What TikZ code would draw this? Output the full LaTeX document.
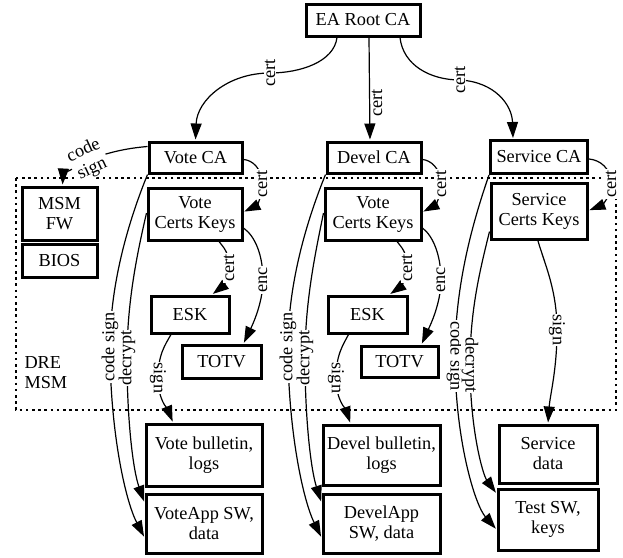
\documentclass[tikz,border=0pt]{standalone}
\usepackage{fontspec}
\setmainfont{Liberation Serif}
\usetikzlibrary{arrows.meta, calc, positioning}
\pgfdeclarelayer{bg}
\pgfsetlayers{bg,main}

\tikzset{
  box/.style={draw, line width=3pt, fill=white, align=center, inner sep=0pt},
  lbl/.style={fill=white, inner sep=1pt, rotate=90},
  lbldown/.style={fill=white, inner sep=1pt, rotate=-90},
  edge/.style={-{Triangle[length=16pt,width=11pt]}, line width=1.2pt, shorten >=1pt},
  dotbox/.style={line width=2.6pt, dash pattern=on 2.6pt off 3.6pt},
}

\begin{document}
\begin{tikzpicture}[x=1pt, y=-1pt, font=\fontsize{18.3}{20}\selectfont]
    \useasboundingbox (0,0) rectangle (623,557);

    % CAs
    \node[box, minimum width=114, minimum height=32] (root) at (363,20) {EA Root CA};
    \node[box, minimum width=93, minimum height=31] (vca) at (195.5,157.5) {Vote CA};
    \node[box, minimum width=94, minimum height=31] (dca) at (374,157.5) {Devel CA};
    \node[box, minimum width=97, minimum height=33] (sca) at (539,157) {Service CA};

    % MSM side
    \node[box, minimum width=75, minimum height=53] (msm) at (59.5,213.5) {MSM\\FW};
    \node[box, minimum width=75, minimum height=33] (bios) at (59.5,260.5) {BIOS};
    \node[anchor=west, align=left] (dre) at (21,373) {DRE\\MSM};

    % keys
    \node[box, minimum width=94, minimum height=52] (vck) at (195,214) {Vote\\Certs Keys};
    \node[box, minimum width=96, minimum height=52] (dck) at (373,214) {Vote\\Certs Keys};
    \node[box, minimum width=96, minimum height=56] (sck) at (539,211.5) {Service\\Certs Keys};
    \node[box, minimum width=78, minimum height=37] (esk1) at (190,314.5) {ESK};
    \node[box, minimum width=79, minimum height=33] (totv1) at (221.5,361.5) {TOTV};
    \node[box, minimum width=79, minimum height=37] (esk2) at (367.5,314.5) {ESK};
    \node[box, minimum width=77, minimum height=31] (totv2) at (399.5,361.5) {TOTV};

    % outputs
    \node[box, minimum width=116, minimum height=62] (vbl) at (204,455) {Vote bulletin,\\logs};
    \node[box, minimum width=116, minimum height=59] (vapp) at (204,523.5) {VoteApp SW,\\data};
    \node[box, minimum width=117, minimum height=60] (dbl) at (381.5,455) {Devel bulletin,\\logs};
    \node[box, minimum width=117, minimum height=59] (dapp) at (381.5,523.5) {DevelApp\\SW, data};
    \node[box, minimum width=98, minimum height=58] (sdata) at (548,454) {Service\\data};
    \node[box, minimum width=100, minimum height=61] (test) at (548,519.5) {Test SW,\\keys};

    % edge labels
    \node[lbl] (c1) at (270,73) {cert};
    \node[lbl, fill=none] (c2) at (377,103) {cert};
    \node[lbl] (c3) at (460,80) {cert};
    \node[fill=white, inner sep=1pt, align=center, rotate=25] (cs1) at (88,160) {code\\sign};
    \node[lbl] (c4) at (262,184) {cert};
    \node[lbl] (c5) at (229,268) {cert};
    \node[lbl] (e1) at (263,280) {enc};
    \node[lbldown] (s1) at (158,378) {sign};
    \node[lbl] (cs2) at (110,347) {code sign};
    \node[lbl] (d1) at (127,358) {decrypt};
    \node[lbl] (c6) at (441,184) {cert};
    \node[lbl] (c7) at (407,268) {cert};
    \node[lbl] (e2) at (441,280) {enc};
    \node[lbldown] (s2) at (336,378) {sign};
    \node[lbl] (cs3) at (288,347) {code sign};
    \node[lbl] (d2) at (305,358) {decrypt};
    \node[lbl] (c8) at (611,184) {cert};
    \node[lbldown] (cs4) at (455,356) {code sign};
    \node[lbldown] (d3) at (470,365) {decrypt};
    \node[lbldown] (s3) at (557,330) {sign};

    \begin{pgfonlayer}{bg}
    % DRE MSM boundary
    \draw[dotbox] (16,178) rectangle (616,410);

    % root certs
    \draw[edge] ($(root.south)+(-26,0)$) .. controls (334,62) and (300,73) .. (c1.center)
      .. controls (228,73) and (197,100) .. (vca.north);
    \draw[edge] ($(root.south)+(6,0)$) -- ($(dca.north)+(-4,0)$);
    \draw[edge] ($(root.south)+(37,0)$) .. controls (403,65) and (430,80) .. (c3.center)
      .. controls (495,82) and (512,105) .. ($(sca.north)+(-26,0)$);

    % Vote
    \draw[edge] ($(vca.north west)+(0,6)$) .. controls (130,148) and (112,151) .. (cs1.center)
      .. controls (70,170) and (63,176) .. ($(msm.north)+(3,0)$);
    \draw[edge] ($(vca.east)+(0,2)$) .. controls (252,160) and (262,168) .. (c4.center)
      .. controls (262,198) and (256,206) .. ($(vck.east)+(0,-2)$);
    \draw[edge] ($(vck.south)+(24,0)$) .. controls (224,248) and (229,252) .. (c5.center)
      .. controls (229,284) and (218,290) .. ($(esk1.north)+(22,0)$);
    \draw[edge] ($(vck.east)+(0,14)$) .. controls (255,236) and (263,255) .. (e1.center)
      .. controls (263,305) and (250,330) .. ($(totv1.north)+(22,0)$);
    \draw[edge] ($(esk1.south)+(-19,0)$) .. controls (165,345) and (158,355) .. (s1.center)
      .. controls (158,400) and (168,410) .. ($(vbl.north)+(-31,0)$);
    \draw[edge] (vca.south west) .. controls (125,230) and (110,290) .. (cs2.center)
      .. controls (110,430) and (125,500) .. ($(vapp.west)+(0,14)$);
    \draw[edge] ($(vck.west)+(0,-1)$) .. controls (138,250) and (127,300) .. (d1.center)
      .. controls (127,420) and (133,470) .. ($(vapp.west)+(0,-21)$);

    % Devel
    \draw[edge] ($(dca.east)+(0,2)$) .. controls (430,160) and (441,168) .. (c6.center)
      .. controls (441,198) and (434,206) .. ($(dck.east)+(0,-2)$);
    \draw[edge] ($(dck.south)+(24,0)$) .. controls (402,248) and (407,252) .. (c7.center)
      .. controls (407,284) and (396,290) .. ($(esk2.north)+(22,0)$);
    \draw[edge] ($(dck.east)+(0,14)$) .. controls (433,236) and (441,255) .. (e2.center)
      .. controls (441,305) and (428,330) .. ($(totv2.north)+(22,0)$);
    \draw[edge] ($(esk2.south)+(-19,0)$) .. controls (343,345) and (336,355) .. (s2.center)
      .. controls (336,400) and (346,410) .. ($(dbl.north)+(-31,0)$);
    \draw[edge] (dca.south west) .. controls (303,230) and (288,290) .. (cs3.center)
      .. controls (288,430) and (303,500) .. ($(dapp.west)+(0,14)$);
    \draw[edge] ($(dck.west)+(0,-1)$) .. controls (316,250) and (305,300) .. (d2.center)
      .. controls (305,420) and (311,470) .. ($(dapp.west)+(0,-21)$);

    % Service
    \draw[edge] ($(sca.east)+(0,2)$) .. controls (600,160) and (611,168) .. (c8.center)
      .. controls (611,198) and (600,206) .. ($(sck.east)+(0,-1)$);
    \draw[edge] (sca.south west) .. controls (470,230) and (455,290) .. (cs4.center)
      .. controls (455,440) and (475,505) .. ($(test.west)+(0,10)$);
    \draw[edge] ($(sck.west)+(0,20)$) .. controls (480,270) and (470,310) .. (d3.center)
      .. controls (470,430) and (483,475) .. ($(test.west)+(0,-26)$);
    \draw[edge] ($(sck.south)+(-1,0)$) .. controls (545,265) and (557,290) .. (s3.center)
      .. controls (557,370) and (550,395) .. (sdata.north);
    \end{pgfonlayer}
\end{tikzpicture}
\end{document}
